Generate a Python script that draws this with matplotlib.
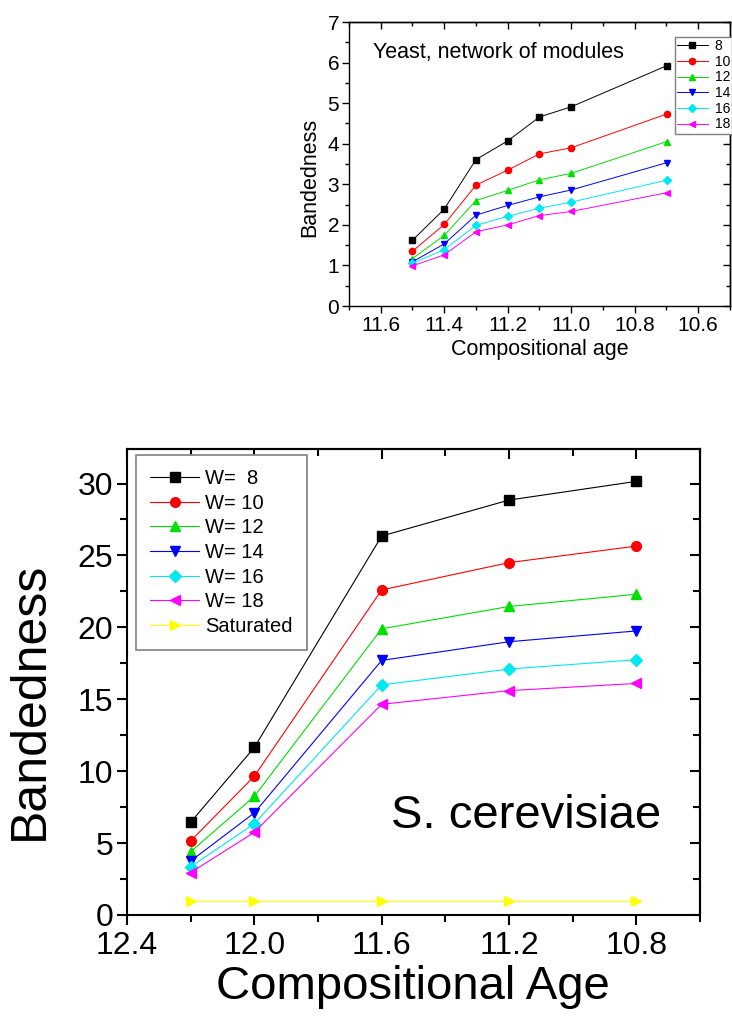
import matplotlib
matplotlib.use("Agg")
import matplotlib.pyplot as plt
from matplotlib.ticker import MultipleLocator, FormatStrFormatter

plt.rcParams['font.family'] = ['Liberation Sans', 'DejaVu Sans']

# top panel: yeast, network of modules
top_age = [11.5, 11.4, 11.3, 11.2, 11.1, 11.0, 10.7]
top_w8 = [1.62, 2.39, 3.61, 4.07, 4.66, 4.91, 5.92]
top_w10 = [1.35, 2.01, 2.98, 3.35, 3.75, 3.90, 4.73]
top_w12 = [1.17, 1.74, 2.60, 2.85, 3.11, 3.27, 4.05]
top_w14 = [1.09, 1.53, 2.24, 2.48, 2.69, 2.86, 3.53]
top_w16 = [1.05, 1.39, 1.99, 2.21, 2.41, 2.56, 3.10]
top_w18 = [0.99, 1.26, 1.83, 2.00, 2.23, 2.33, 2.79]
top_labels = ['8', '10', '12', '14', '16', '18']

# bottom panel: S. cerevisiae
bot_age = [12.2, 12.0, 11.6, 11.2, 10.8]
bot_w8 = [6.45, 11.65, 26.35, 28.85, 30.15]
bot_w10 = [5.15, 9.65, 22.6, 24.5, 25.65]
bot_w12 = [4.4, 8.25, 19.9, 21.45, 22.3]
bot_w14 = [3.75, 7.1, 17.7, 19.0, 19.75]
bot_w16 = [3.35, 6.35, 16.0, 17.1, 17.75]
bot_w18 = [2.95, 5.75, 14.65, 15.6, 16.1]
bot_sat = [1, 1, 1, 1, 1]
bot_labels = ['W=  8', 'W= 10', 'W= 12', 'W= 14', 'W= 16', 'W= 18', 'Saturated']

colors = ['#000000', '#ff0000', '#00e000', '#0000ff', '#00e8f0', '#ff00ff', '#ffff00']
markers = ['s', 'o', '^', 'v', 'D', '<', '>']


def style_axes(ax, xmaj, xmin, ymaj, ymin, xfmt, lw, maj_len, min_len, labelsize, pad, xpad):
    # origin style: ticks out on left/bottom, in on top/right
    ax.xaxis.set_major_locator(MultipleLocator(xmaj))
    ax.xaxis.set_minor_locator(MultipleLocator(xmin))
    ax.yaxis.set_major_locator(MultipleLocator(ymaj))
    ax.yaxis.set_minor_locator(MultipleLocator(ymin))
    ax.xaxis.set_major_formatter(FormatStrFormatter(xfmt))
    ax.yaxis.set_major_formatter(FormatStrFormatter('%d'))
    ax.tick_params(which='both', direction='out', width=lw, labelsize=labelsize, pad=pad)
    ax.tick_params(axis='x', pad=xpad)
    ax.tick_params(which='major', length=maj_len)
    ax.tick_params(which='minor', length=min_len)
    for s in ax.spines.values():
        s.set_linewidth(lw)

    secx = ax.secondary_xaxis('top')
    secx.xaxis.set_major_locator(MultipleLocator(xmaj))
    secx.xaxis.set_minor_locator(MultipleLocator(xmin))
    secx.tick_params(which='both', direction='in', labeltop=False, width=lw)
    secx.tick_params(which='major', length=maj_len)
    secx.tick_params(which='minor', length=min_len)
    secx.spines['top'].set_linewidth(lw)

    secy = ax.secondary_yaxis('right')
    secy.yaxis.set_major_locator(MultipleLocator(ymaj))
    secy.yaxis.set_minor_locator(MultipleLocator(ymin))
    secy.tick_params(which='both', direction='in', labelright=False, width=lw)
    secy.tick_params(which='major', length=maj_len)
    secy.tick_params(which='minor', length=min_len)
    secy.spines['right'].set_linewidth(lw)


fig = plt.figure(figsize=(7.32, 10.19), dpi=100)

# ---- top chart ----
ax1 = fig.add_axes([349 / 732, 1 - 306 / 1019, (730 - 349) / 732, (306 - 22) / 1019])
top_series = [top_w8, top_w10, top_w12, top_w14, top_w16, top_w18]
for i, ys in enumerate(top_series):
    ms = 4.5 if markers[i] != 'D' else 3.8
    ax1.plot(top_age, ys, color=colors[i], marker=markers[i], ms=ms, lw=0.7,
             label=top_labels[i])
ax1.set_xlim(11.7, 10.5)
ax1.set_ylim(0, 7)
style_axes(ax1, 0.2, 0.1, 1, 0.5, '%.1f', 1.0, 5, 3, 15, 2, 2)
ax1.set_xlabel('Compositional age', fontsize=15.5)
ax1.xaxis.set_label_coords(0.501, -0.116)
ax1.set_ylabel('Bandedness', fontsize=15.5)
ax1.yaxis.set_label_coords(-0.076, 0.451)
ax1.text(0.063, 0.873, 'Yeast, network of modules', transform=ax1.transAxes,
         fontsize=15.5, va='baseline')
leg1 = fig.legend(*ax1.get_legend_handles_labels(), loc='upper left',
                  bbox_to_anchor=(675 / 732, 1 - 37 / 1019), borderaxespad=0,
                  fontsize=10, labelspacing=0.12, handlelength=2.2, handletextpad=0.5,
                  borderpad=0.15, fancybox=False, framealpha=1)
leg1.get_frame().set_edgecolor('#808080')
leg1.get_frame().set_linewidth(1.0)

# ---- bottom chart ----
ax2 = fig.add_axes([127 / 732, 1 - 915 / 1019, (700 - 127) / 732, (915 - 449) / 1019])
bot_series = [bot_w8, bot_w10, bot_w12, bot_w14, bot_w16, bot_w18, bot_sat]
for i, ys in enumerate(bot_series):
    ms = 7 if markers[i] != 'D' else 6
    if markers[i] == 's':
        ms = 6.5
    ax2.plot(bot_age, ys, color=colors[i], marker=markers[i], ms=ms, lw=0.8,
             label=bot_labels[i])
ax2.set_xlim(12.4, 10.6)
ax2.set_ylim(0, 32.4)
style_axes(ax2, 0.4, 0.2, 5, 2.5, '%.1f', 1.5, 7, 5, 23, 3, 4.5)
ax2.set_xlabel('Compositional Age', fontsize=34)
ax2.xaxis.set_label_coords(0.499, -0.108)
ax2.set_ylabel('Bandedness', fontsize=36)
ax2.yaxis.set_label_coords(-0.129, 0.459)
ax2.text(0.461, 0.187, 'S. cerevisiae', transform=ax2.transAxes,
         fontsize=34, va='baseline')
leg2 = fig.legend(*ax2.get_legend_handles_labels(), loc='upper left',
                  bbox_to_anchor=(136 / 732, 1 - 455 / 1019), borderaxespad=0,
                  fontsize=14.5, labelspacing=0.28, handlelength=2.45, handletextpad=0.3,
                  borderpad=0.7, fancybox=False, framealpha=1)
leg2.get_frame().set_edgecolor('#808080')
leg2.get_frame().set_linewidth(1.2)

fig.savefig('out.png', dpi=100)
